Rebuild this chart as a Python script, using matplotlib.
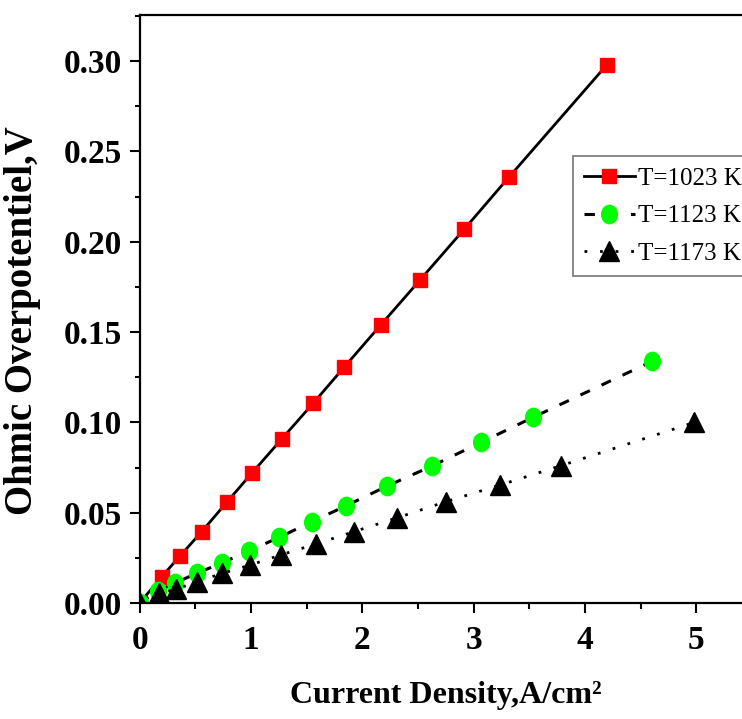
import numpy as np
import matplotlib
matplotlib.use("Agg")
import matplotlib.pyplot as plt
from matplotlib.path import Path
from matplotlib.ticker import MultipleLocator, FormatStrFormatter

# ---- data ----
x_1023 = [0.0, 0.198, 0.365, 0.557, 0.784, 1.006, 1.276, 1.557, 1.836, 2.165, 2.518, 2.916, 3.315, 4.196]
y_1023 = [0.0, 0.0146, 0.0262, 0.0395, 0.0559, 0.0718, 0.0908, 0.1105, 0.1305, 0.1539, 0.1788, 0.2070, 0.2356, 0.2979]

x_1123 = [0.0, 0.164, 0.317, 0.512, 0.742, 0.982, 1.254, 1.548, 1.856, 2.225, 2.624, 3.066, 3.534, 4.603]
y_1123 = [0.0, 0.0066, 0.0111, 0.0164, 0.0223, 0.0288, 0.0364, 0.0450, 0.0539, 0.0648, 0.0758, 0.0889, 0.1028, 0.1338]

x_1173 = [0.0, 0.173, 0.329, 0.512, 0.742, 0.991, 1.267, 1.584, 1.925, 2.314, 2.752, 3.237, 3.783, 4.983]
y_1173 = [0.0, 0.0054, 0.0076, 0.0118, 0.0164, 0.0210, 0.0266, 0.0327, 0.0395, 0.0472, 0.0561, 0.0653, 0.0760, 0.1000]

labels = ["T=1023 K", "T=1123 K", "T=1173 K"]
xlabel = "Current Density,A/cm\u00b2"
ylabel = "Ohmic Overpotentiel,V"

# ---- figure ----
W, H = 742, 719
fig = plt.figure(figsize=(W / 100, H / 100), dpi=100)
serif = ["Liberation Serif", "DejaVu Serif"]

left_px, right_px, top_px, bottom_px = 139.7, 752.0, 15.0, 603.0
ax = fig.add_axes([left_px / W, 1 - bottom_px / H,
                   (right_px - left_px) / W, (bottom_px - top_px) / H])

# elliptical marker (taller than wide)
circ = Path.unit_circle()
ell = Path(circ.vertices * np.array([0.86, 1.0]), circ.codes)

ax.plot(x_1023, y_1023, color="black", lw=2.0, ls="-",
        marker="s", ms=10.5, mfc="red", mec="red", label=labels[0])
ax.plot(x_1123, y_1123, color="black", lw=2.2, ls=(0, (3.4, 4.2)),
        marker=ell, ms=13.2, mfc="#00ff00", mec="#00ff00", label=labels[1])
ax.plot(x_1173, y_1173, color="black", lw=2.0, ls=(0, (1.0, 4.6)),
        marker="^", ms=13.7, mfc="black", mec="black", label=labels[2])

ax.set_xlim(0, 5.5)
ax.set_ylim(0, 0.3255)

ax.xaxis.set_major_locator(MultipleLocator(1))
ax.xaxis.set_minor_locator(MultipleLocator(0.5))
ax.yaxis.set_major_locator(MultipleLocator(0.05))
ax.yaxis.set_minor_locator(MultipleLocator(0.025))
ax.yaxis.set_major_formatter(FormatStrFormatter("%.2f"))

for s in ax.spines.values():
    s.set_linewidth(1.6)

ax.tick_params(axis="x", which="major", direction="out", length=7.5, width=1.5, pad=8)
ax.tick_params(axis="x", which="minor", direction="out", length=4.5, width=1.5)
ax.tick_params(axis="y", which="major", direction="out", length=7, width=1.5, pad=6)
ax.tick_params(axis="y", which="minor", direction="out", length=3.5, width=1.5)

for lab in ax.get_xticklabels() + ax.get_yticklabels():
    lab.set_family(serif)
    lab.set_weight("bold")
    lab.set_fontsize(24)

ax.set_xlabel(xlabel, family=serif, weight="bold", fontsize=23)
ax.set_ylabel(ylabel, family=serif, weight="bold", fontsize=28)
ax.xaxis.set_label_coords(0.5, -(681 - bottom_px) / (bottom_px - top_px), transform=ax.transAxes)
ax.yaxis.set_label_coords((41 - left_px) / (right_px - left_px),
                          (bottom_px - 321) / (bottom_px - top_px))

leg = ax.legend(loc="upper left", bbox_to_anchor=(572.7 / W, 1 - 156 / H),
                bbox_transform=fig.transFigure, borderaxespad=0,
                prop={"family": serif, "size": 18}, fancybox=False,
                framealpha=1, edgecolor="#808080", handlelength=2.04,
                handletextpad=0.12, labelspacing=0.6, borderpad=0.45,
                numpoints=1)
leg.get_frame().set_linewidth(1.3)

fig.savefig("out.png", dpi=100)
